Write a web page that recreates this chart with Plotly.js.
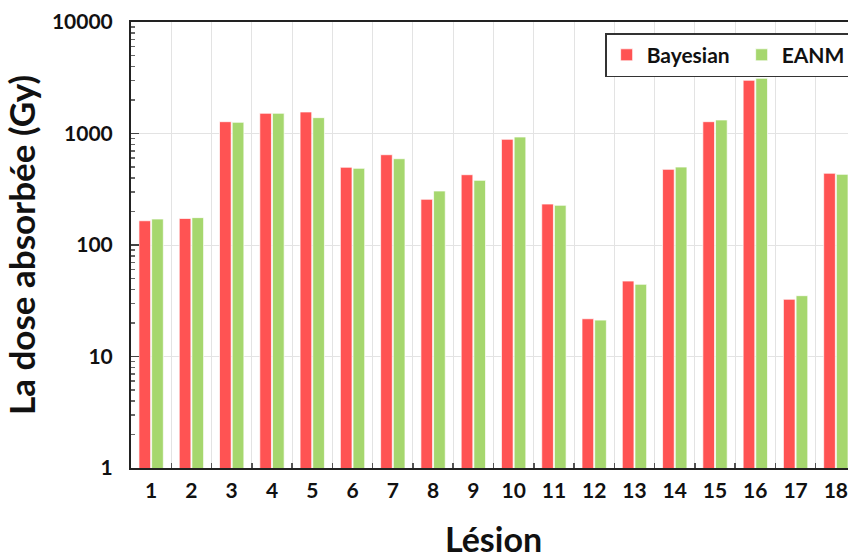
<!DOCTYPE html>
<html>
<head>
<meta charset="utf-8">
<script src="https://cdn.plot.ly/plotly-3.0.1.min.js"></script>
<style>
html, body { margin:0; padding:0; width:848px; height:559px; overflow:hidden; background:#fff; }
#chart { width:960px; height:559px; }
</style>
</head>
<body>
<div id="chart"></div>
<script>
const lesions = ['1','2','3','4','5','6','7','8','9','10','11','12','13','14','15','16','17','18'];
const bayesian = [165, 173, 1276, 1518, 1560, 498, 645, 257, 427, 887, 233, 21.8, 47.5, 477, 1276, 3000, 32.6, 440];
const eanm     = [171, 176, 1260, 1518, 1387, 487, 594, 305, 380, 930, 227, 21.2, 44.4, 500, 1322, 3126, 35.1, 430];
const yTickVals = [1, 10, 100, 1000, 10000];
const yTickText = ['1', '10', '100', '1000', '10000'];

const FONT = 'Lato, "Open Sans", sans-serif';

const traces = [
  { type:'bar', name:'Bayesian', x:lesions, y:bayesian,
    marker:{ color:'#ff5353', line:{ color:'rgba(255,255,255,0.7)', width:1 } } },
  { type:'bar', name:'EANM', x:lesions, y:eanm,
    marker:{ color:'#a6d76e', line:{ color:'rgba(255,255,255,0.7)', width:1 } } }
];

const layout = {
  width:960, height:559,
  margin:{ l:131, r:104, t:22, b:91 },
  paper_bgcolor:'#fff', plot_bgcolor:'#fff',
  barmode:'group', bargap:0.37, bargroupgap:0.08,
  font:{ family:FONT, color:'#111' },
  showlegend:true,
  legend:{
    orientation:'h', x:0.654, y:0.975, xanchor:'left', yanchor:'top',
    bgcolor:'#fff', bordercolor:'#333', borderwidth:1.5,
    font:{ family:FONT, size:21, color:'#111', weight:'bold' },
    itemwidth:30, entrywidth:90, tracegroupgap:0
  },
  xaxis:{
    type:'category',
    title:{ text:'<b>Lésion</b>', font:{ family:FONT, size:34, color:'#111' }, standoff:30 },
    tickfont:{ family:FONT, size:21, color:'#111', weight:'bold' },
    tickson:'boundaries', ticks:'inside', ticklen:5, tickcolor:'#555', tickwidth:1.5,
    ticklabelstandoff:3, tickangle:0,
    showgrid:true, gridcolor:'#e3e3e3', gridwidth:1,
    showline:true, linecolor:'#222', linewidth:2, mirror:true,
    range:[-0.5, 17.5]
  },
  yaxis:{
    type:'log', range:[0, 4],
    title:{ text:'<b>La dose absorbée (Gy)</b>', font:{ family:FONT, size:35, color:'#111' }, standoff:12 },
    tickvals:yTickVals, ticktext:yTickText,
    tickfont:{ family:FONT, size:21, color:'#111', weight:'bold' },
    ticks:'inside', ticklen:8, tickcolor:'#444', tickwidth:1.5,
    ticklabelstandoff:12,
    minor:{ ticks:'inside', ticklen:4, tickcolor:'#666', dtick:'D1', showgrid:false },
    showgrid:true, gridcolor:'#e3e3e3', gridwidth:1,
    showline:true, linecolor:'#222', linewidth:2, mirror:false,
    zeroline:false
  }
};

Plotly.newPlot('chart', traces, layout, { displayModeBar:false, staticPlot:true });
</script>
</body>
</html>
